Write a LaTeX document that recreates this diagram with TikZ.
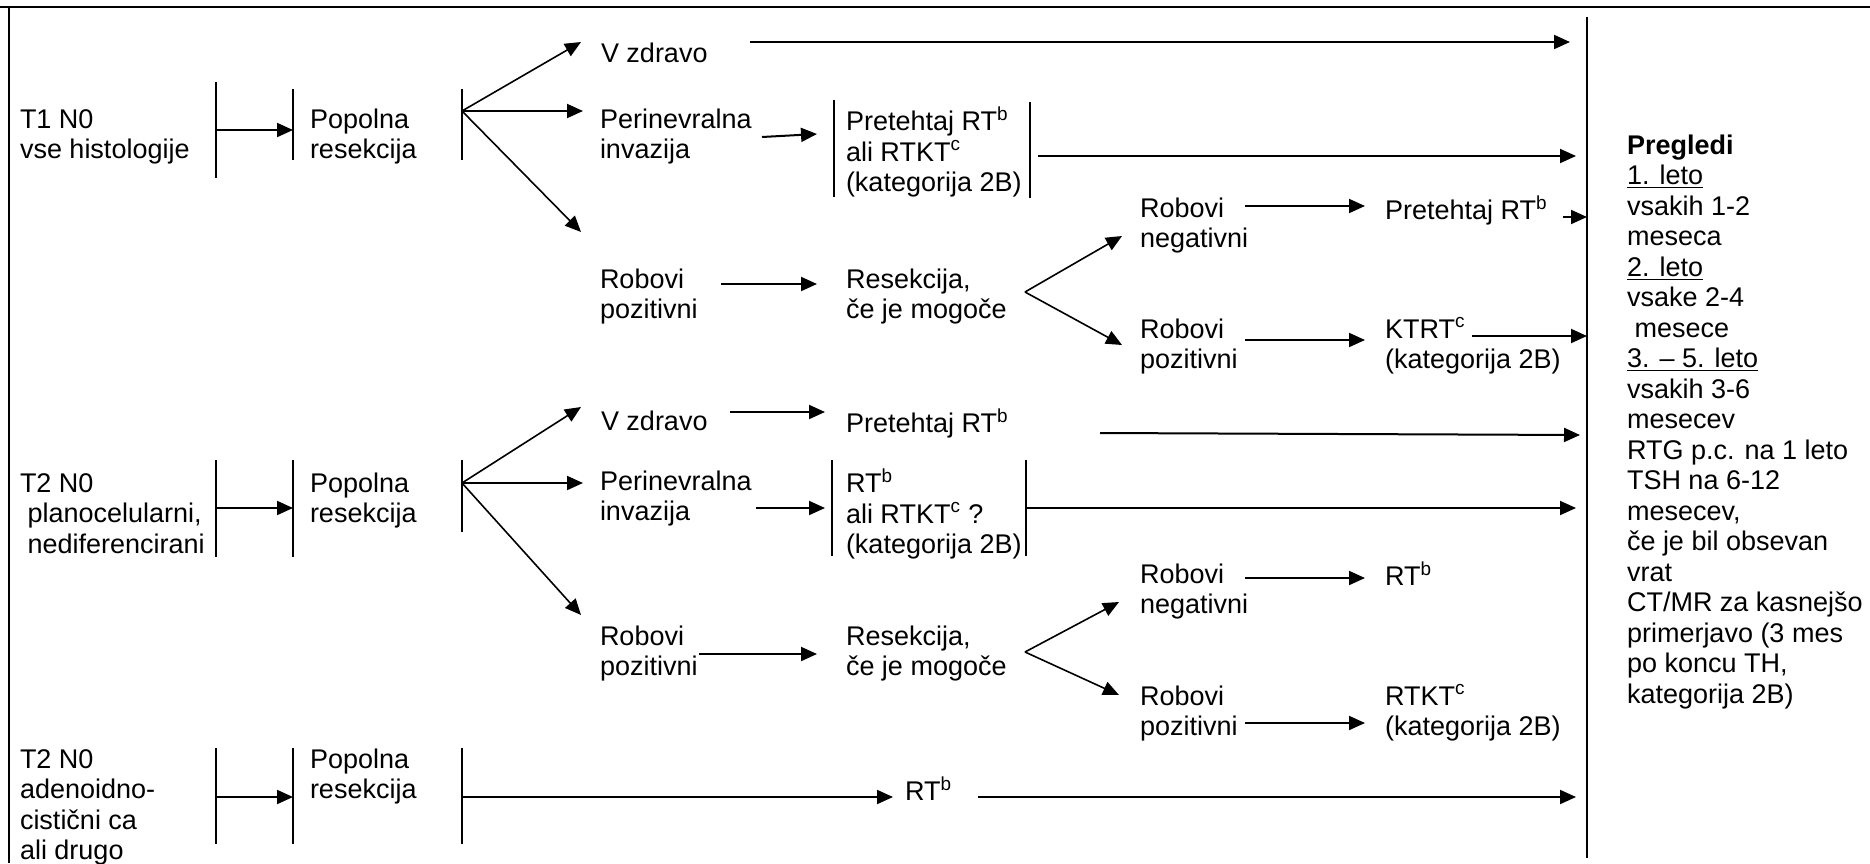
\documentclass[tikz,border=0pt]{standalone}
\usepackage{fontspec}
\setmainfont{Liberation Sans}
\usetikzlibrary{arrows.meta}
\begin{document}
\begin{tikzpicture}[x=0.5pt,y=-0.5pt,
  txt/.style={anchor=north west,inner sep=0pt,outer sep=0pt,align=left,
    font=\fontsize{13.5pt}{15.25pt}\selectfont},
  vbar/.style={line width=0.9pt},
  arr/.style={line width=1pt,-{Triangle[length=8pt,width=7pt]}},
  darr/.style={line width=0.8pt,-{Triangle[length=8pt,width=7pt]}},
  edgeline/.style={line width=1.1pt}]
\useasboundingbox (0,0) rectangle (1870,863);

% outer frame (top and left edges only)
\coordinate (fTL) at (0,7);   \coordinate (fTR) at (1870,7);
\coordinate (fLT) at (9,6.5); \coordinate (fLB) at (9,863);
\draw[edgeline] (fTL) -- (fTR);
\draw[edgeline] (fLT) -- (fLB);

% divider before the follow-up column
\coordinate (dT) at (1587,17); \coordinate (dB) at (1587,858);
\draw[vbar] (dT) -- (dB);

%% ---------------- T1 N0 ----------------
\node[txt] (t1) at (20,106.65) {\strut T1 N0\\vse histologije};
\node[txt] (p1) at (310,106.65) {\strut Popolna\\resekcija};
\coordinate (r1b1t) at (216,82);  \coordinate (r1b1b) at (216,178);
\coordinate (r1b2t) at (293,89);  \coordinate (r1b2b) at (293,160);
\coordinate (r1b3t) at (462,89);  \coordinate (r1b3b) at (462,160);
\draw[vbar] (r1b1t) -- (r1b1b);
\draw[vbar] (r1b2t) -- (r1b2b);
\draw[vbar] (r1b3t) -- (r1b3b);
\coordinate (r1a) at (216,130); \coordinate (r1b) at (293,130);
\draw[arr] (r1a) -- (r1b);
\coordinate (r1f) at (462,111);
\coordinate (r1fu) at (581,42); \coordinate (r1fm) at (583,111); \coordinate (r1fd) at (581,232);
\draw[darr] (r1f) -- (r1fu);
\draw[arr] (r1f) -- (r1fm);
\draw[darr] (r1f) -- (r1fd);

\node[txt] (vz1) at (601,40.65) {\strut V zdravo};
\coordinate (vz1s) at (750,42); \coordinate (vz1e) at (1570,42);
\draw[arr] (vz1s) -- (vz1e);

\node[txt] (pn1) at (600,106.65) {\strut Perinevralna\\invazija};
\coordinate (pn1s) at (762,137); \coordinate (pn1e) at (817,134);
\draw[arr] (pn1s) -- (pn1e);
\coordinate (r1cAt) at (834,100);  \coordinate (r1cAb) at (834,197);
\coordinate (r1cBt) at (1030,102); \coordinate (r1cBb) at (1030,198);
\draw[vbar] (r1cAt) -- (r1cAb);
\draw[vbar] (r1cBt) -- (r1cBb);
\node[txt] (pr1) at (846,106.65) {\strut Pretehtaj RT\textsuperscript{b}\\ali RTKT\textsuperscript{c}\\(kategorija 2B)};
\coordinate (pr1s) at (1038,156); \coordinate (pr1e) at (1576,156);
\draw[arr] (pr1s) -- (pr1e);

\node[txt] (rp1) at (600,266.65) {\strut Robovi\\pozitivni};
\node[txt] (rs1) at (846,266.65) {\strut Resekcija,\\če je mogoče};
\coordinate (rp1s) at (721,284); \coordinate (rp1e) at (817,284);
\draw[arr] (rp1s) -- (rp1e);
\coordinate (r1g) at (1025,292);
\coordinate (r1gu) at (1122,236); \coordinate (r1gd) at (1122,345);
\draw[darr] (r1g) -- (r1gu);
\draw[darr] (r1g) -- (r1gd);

\node[txt] (rn1) at (1140,195.65) {\strut Robovi\\negativni};
\coordinate (rn1s) at (1245,206); \coordinate (rn1e) at (1365,206);
\draw[arr] (rn1s) -- (rn1e);
\node[txt] (pt1) at (1385,195.65) {\strut Pretehtaj RT\textsuperscript{b}};
\coordinate (pt1s) at (1563,217); \coordinate (pt1e) at (1587,217);
\draw[arr] (pt1s) -- (pt1e);

\node[txt] (rq1) at (1140,316.65) {\strut Robovi\\pozitivni};
\coordinate (rq1s) at (1245,340); \coordinate (rq1e) at (1365,340);
\draw[arr] (rq1s) -- (rq1e);
\node[txt] (kt1) at (1385,316.65) {\strut KTRT\textsuperscript{c}\\(kategorija 2B)};
\coordinate (kt1s) at (1472,336); \coordinate (kt1e) at (1587,336);
\draw[arr] (kt1s) -- (kt1e);

%% ---------------- T2 N0 planocelularni ----------------
\node[txt] (t2) at (20,470.65) {\strut T2 N0\\\hspace*{0.28em}planocelularni,\\\hspace*{0.28em}nediferencirani};
\node[txt] (p2) at (310,470.65) {\strut Popolna\\resekcija};
\coordinate (r2b1t) at (216,460); \coordinate (r2b1b) at (216,557);
\coordinate (r2b2t) at (293,460); \coordinate (r2b2b) at (293,557);
\coordinate (r2b3t) at (462,460); \coordinate (r2b3b) at (462,532);
\draw[vbar] (r2b1t) -- (r2b1b);
\draw[vbar] (r2b2t) -- (r2b2b);
\draw[vbar] (r2b3t) -- (r2b3b);
\coordinate (r2a) at (216,508); \coordinate (r2b) at (293,508);
\draw[arr] (r2a) -- (r2b);
\coordinate (r2f) at (462,483);
\coordinate (r2fu) at (581,407); \coordinate (r2fm) at (583,483); \coordinate (r2fd) at (581,615);
\draw[darr] (r2f) -- (r2fu);
\draw[arr] (r2f) -- (r2fm);
\draw[darr] (r2f) -- (r2fd);

\node[txt] (vz2) at (601,408.65) {\strut V zdravo};
\coordinate (vz2s) at (730,412); \coordinate (vz2e) at (825,412);
\draw[arr] (vz2s) -- (vz2e);
\node[txt] (pt2) at (846,408.65) {\strut Pretehtaj RT\textsuperscript{b}};
\coordinate (pt2s) at (1100,433); \coordinate (pt2e) at (1580,435);
\draw[arr] (pt2s) -- (pt2e);

\node[txt] (pn2) at (600,468.65) {\strut Perinevralna\\invazija};
\coordinate (pn2s) at (756,508); \coordinate (pn2e) at (825,508);
\draw[arr] (pn2s) -- (pn2e);
\coordinate (r2cAt) at (832,460);  \coordinate (r2cAb) at (832,556);
\coordinate (r2cBt) at (1026,460); \coordinate (r2cBb) at (1026,556);
\draw[vbar] (r2cAt) -- (r2cAb);
\draw[vbar] (r2cBt) -- (r2cBb);
\node[txt] (rt2) at (846,468.65) {\strut RT\textsuperscript{b}\\ali RTKT\textsuperscript{c} ?\\(kategorija 2B)};
\coordinate (rt2s) at (1026,508); \coordinate (rt2e) at (1576,508);
\draw[arr] (rt2s) -- (rt2e);

\node[txt] (rp2) at (600,623.65) {\strut Robovi\\pozitivni};
\node[txt] (rs2) at (846,623.65) {\strut Resekcija,\\če je mogoče};
\coordinate (rp2s) at (699,654); \coordinate (rp2e) at (817,654);
\draw[arr] (rp2s) -- (rp2e);
\coordinate (r2g) at (1025,652);
\coordinate (r2gu) at (1119,602); \coordinate (r2gd) at (1119,695);
\draw[darr] (r2g) -- (r2gu);
\draw[darr] (r2g) -- (r2gd);

\node[txt] (rn2) at (1140,561.65) {\strut Robovi\\negativni};
\coordinate (rn2s) at (1245,578); \coordinate (rn2e) at (1365,578);
\draw[arr] (rn2s) -- (rn2e);
\node[txt] (rt3) at (1385,561.65) {\strut RT\textsuperscript{b}};

\node[txt] (rq2) at (1140,683.65) {\strut Robovi\\pozitivni};
\coordinate (rq2s) at (1245,723); \coordinate (rq2e) at (1365,723);
\draw[arr] (rq2s) -- (rq2e);
\node[txt] (kt2) at (1385,683.65) {\strut RTKT\textsuperscript{c}\\(kategorija 2B)};

%% ---------------- T2 N0 adenoidnocistični ----------------
\node[txt] (t3) at (20,746.65) {\strut T2 N0\\adenoidno-\\cistični ca\\ali drugo};
\node[txt] (p3) at (310,746.65) {\strut Popolna\\resekcija};
\coordinate (r3b1t) at (216,748); \coordinate (r3b1b) at (216,844);
\coordinate (r3b2t) at (293,748); \coordinate (r3b2b) at (293,844);
\coordinate (r3b3t) at (462,748); \coordinate (r3b3b) at (462,844);
\draw[vbar] (r3b1t) -- (r3b1b);
\draw[vbar] (r3b2t) -- (r3b2b);
\draw[vbar] (r3b3t) -- (r3b3b);
\coordinate (r3a) at (216,797); \coordinate (r3b) at (293,797);
\draw[arr] (r3a) -- (r3b);
\coordinate (r3c) at (462,797); \coordinate (r3d) at (893,797);
\draw[arr] (r3c) -- (r3d);
\node[txt] (rt4) at (905,776.65) {\strut RT\textsuperscript{b}};
\coordinate (rt4s) at (978,797); \coordinate (rt4e) at (1576,797);
\draw[arr] (rt4s) -- (rt4e);

%% ---------------- follow-up column ----------------
\node[txt] (pregledi) at (1627,132.65) {\strut\textbf{Pregledi}\\
\underline{1. leto}\\
vsakih 1-2\\
meseca\\
\underline{2. leto}\\
vsake 2-4\\
\hspace*{0.28em}mesece\\
\underline{3. – 5. leto}\\
vsakih 3-6\\
mesecev\\
RTG p.c. na 1 leto\\
TSH na 6-12\\
mesecev,\\
če je bil obsevan\\
vrat\\
CT/MR za kasnejšo\\
primerjavo (3 mes\\
po koncu TH,\\
kategorija 2B)};
\end{tikzpicture}
\end{document}
